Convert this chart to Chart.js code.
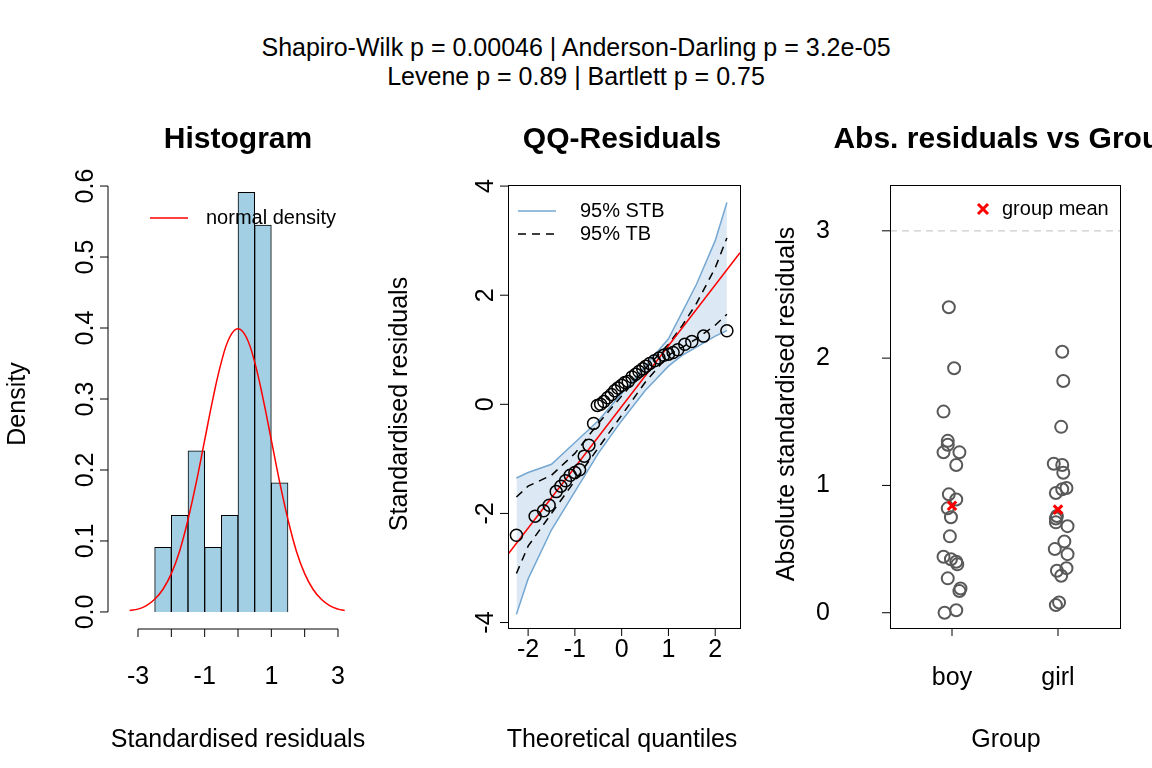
<!DOCTYPE html>
<html>
<head>
<meta charset="utf-8">
<script src="https://cdn.jsdelivr.net/npm/chart.js@4"></script>
<style>
  body { margin: 0; width: 1152px; height: 768px; background: #fff; overflow: hidden; font-family: "Liberation Sans", Arial, sans-serif; }
  .wrap { position: absolute; top: 0; width: 384px; height: 768px; }
  #head { position: absolute; top: 33px; left: 0; width: 1152px; text-align: center; font-size: 25px; line-height: 29px; }
</style>
</head>
<body>
<div id="head">Shapiro-Wilk p = 0.00046 | Anderson-Darling p = 3.2e-05<br>Levene p = 0.89 | Bartlett p = 0.75</div>
<div class="wrap" style="left:0"><canvas id="hist"></canvas></div>
<div class="wrap" style="left:384px"><canvas id="qq"></canvas></div>
<div class="wrap" style="left:768px"><canvas id="grp"></canvas></div>
<script>
// ============================================
// DATA
// ============================================

// histogram: bin centres and densities
const histMids = [-2.25, -1.75, -1.25, -0.75, -0.25, 0.25, 0.75, 1.25];
const histDensity = [0.091, 0.136, 0.227, 0.091, 0.136, 0.591, 0.545, 0.182];
const densX = [-3.25, -3, -2.75, -2.5, -2.25, -2, -1.75, -1.5, -1.25, -1, -0.75, -0.5, -0.25, 0,
               0.25, 0.5, 0.75, 1, 1.25, 1.5, 1.75, 2, 2.25, 2.5, 2.75, 3, 3.2];
const densY = [0.002, 0.004, 0.009, 0.018, 0.032, 0.054, 0.086, 0.130, 0.183, 0.242, 0.301, 0.352, 0.387, 0.399,
               0.387, 0.352, 0.301, 0.242, 0.183, 0.130, 0.086, 0.054, 0.032, 0.018, 0.009, 0.004, 0.002];

// QQ plot
const qqTheo = [-2.25, -1.85, -1.67, -1.55, -1.4, -1.3, -1.2, -1.1, -1.0, -0.9, -0.8, -0.7, -0.6, -0.52, -0.45,
                -0.38, -0.3, -0.22, -0.15, -0.08, 0, 0.07, 0.14, 0.22, 0.3, 0.37, 0.45, 0.52, 0.6, 0.7,
                0.8, 0.9, 1.0, 1.1, 1.2, 1.35, 1.5, 1.75, 2.25];
const qqResid = [-2.4, -2.05, -1.95, -1.85, -1.6, -1.5, -1.4, -1.3, -1.25, -1.2, -0.95, -0.75, -0.35, -0.02, 0.0,
                 0.05, 0.12, 0.18, 0.25, 0.3, 0.35, 0.4, 0.42, 0.5, 0.55, 0.6, 0.65, 0.7, 0.75, 0.8,
                 0.85, 0.9, 0.92, 0.95, 1.0, 1.1, 1.15, 1.25, 1.35];
const bandX = [-2.25, -2, -1.5, -1, -0.5, 0, 0.5, 1, 1.3, 1.6, 2, 2.25];
const stbUpper = [-1.35, -1.25, -1.1, -0.7, -0.3, 0.2, 0.7, 1.2, 1.7, 2.2, 3.0, 3.7];
const stbLower = [-3.85, -3.2, -2.3, -1.6, -0.9, -0.3, 0.25, 0.7, 0.9, 1.05, 1.25, 1.35];
const tbUpper = [-1.7, -1.5, -1.3, -0.9, -0.35, 0.15, 0.65, 1.1, 1.45, 1.85, 2.5, 3.05];
const tbLower = [-3.1, -2.6, -2.0, -1.4, -0.8, -0.2, 0.4, 0.9, 1.05, 1.2, 1.45, 1.65];
const refLineX = [-2.43, 2.53];
const refLineY = [-2.75, 2.78];

// absolute residuals by group (x = jittered group position)
const groups = ['boy', 'girl'];
const boyX = [0.97, 1.02, 0.92, 0.96, 0.96, 0.92, 1.07, 1.04, 0.97, 1.04, 0.96, 0.99, 0.98, 0.92, 0.99, 1.04,
              1.05, 0.96, 1.08, 1.07, 1.04, 0.93];
const boyY = [2.40, 1.92, 1.58, 1.35, 1.32, 1.26, 1.26, 1.16, 0.93, 0.89, 0.82, 0.75, 0.60, 0.44, 0.42, 0.40,
              0.38, 0.27, 0.19, 0.17, 0.02, 0.0];
const girlX = [2.04, 2.05, 2.03, 1.96, 2.04, 2.05, 2.08, 2.04, 1.98, 1.99, 1.98, 1.98, 2.09, 2.06, 1.97, 2.09,
               2.08, 1.99, 2.03, 2.01, 1.98];
const girlY = [2.05, 1.82, 1.46, 1.17, 1.16, 1.10, 0.98, 0.97, 0.94, 0.76, 0.74, 0.71, 0.68, 0.56, 0.50, 0.46,
               0.35, 0.33, 0.29, 0.08, 0.06];
const groupMeanY = [0.84, 0.81];

// ============================================
// R-STYLE AXES PLUGIN
// ============================================

const FONT = '"Liberation Sans", Arial, sans-serif';
const pts = (xs, ys) => xs.map((x, i) => ({ x: x, y: ys[i] }));

const rAxes = {
    id: 'rax',
    afterDraw(chart, args, o) {
        const ctx = chart.ctx, a = chart.chartArea, xs = chart.scales.x, ys = chart.scales.y;
        ctx.save();
        ctx.strokeStyle = '#000';
        ctx.fillStyle = '#000';
        ctx.lineWidth = 1;
        if (o.box) ctx.strokeRect(a.left + 0.5, a.top + 0.5, a.right - a.left, a.bottom - a.top);

        // x axis
        const xp = o.xTicks.map(v => xs.getPixelForValue(v));
        ctx.beginPath();
        if (!o.box) { ctx.moveTo(xp[0], a.bottom); ctx.lineTo(xp[xp.length - 1], a.bottom); }
        xp.forEach(p => { ctx.moveTo(p, a.bottom); ctx.lineTo(p, a.bottom + 8); });
        ctx.stroke();
        ctx.font = '25px ' + FONT;
        ctx.textAlign = 'center';
        ctx.textBaseline = 'middle';
        xp.forEach((p, i) => { if (o.xLabels[i]) ctx.fillText(o.xLabels[i], p, a.bottom + o.xLabelGap); });

        // y axis
        const yp = o.yTicks.map(v => ys.getPixelForValue(v));
        ctx.beginPath();
        if (!o.box) { ctx.moveTo(a.left, yp[0]); ctx.lineTo(a.left, yp[yp.length - 1]); }
        yp.forEach(p => { ctx.moveTo(a.left, p); ctx.lineTo(a.left - 8, p); });
        ctx.stroke();
        yp.forEach((p, i) => {
            if (o.yHoriz) {
                ctx.fillText(o.yLabels[i], a.left - 67, p);
            } else {
                ctx.save();
                ctx.translate(a.left - 22, p);
                ctx.rotate(-Math.PI / 2);
                ctx.fillText(o.yLabels[i], 0, 0);
                ctx.restore();
            }
        });

        // titles
        ctx.fillText(o.xTitle, 238, 740);
        ctx.save();
        ctx.translate(o.yTitleX, 404);
        ctx.rotate(-Math.PI / 2);
        ctx.fillText(o.yTitle, 0, 0);
        ctx.restore();
        ctx.font = 'bold 30px ' + FONT;
        ctx.fillText(o.title, 238, 140);

        // legend
        ctx.font = '20px ' + FONT;
        ctx.textAlign = 'left';
        o.legend.forEach(l => {
            ctx.strokeStyle = l.color;
            ctx.lineWidth = l.width || 1.5;
            ctx.setLineDash(l.dash || []);
            ctx.beginPath();
            if (l.cross) {
                ctx.moveTo(l.x - 5, l.y - 5); ctx.lineTo(l.x + 5, l.y + 5);
                ctx.moveTo(l.x + 5, l.y - 5); ctx.lineTo(l.x - 5, l.y + 5);
            } else {
                ctx.moveTo(l.x, l.y); ctx.lineTo(l.x + 38, l.y);
            }
            ctx.stroke();
            ctx.setLineDash([]);
            ctx.fillStyle = '#000';
            ctx.fillText(l.text, l.tx, l.y);
        });
        ctx.restore();
    }
};

function baseOptions(pad, xr, yr, rax) {
    return {
        responsive: false,
        animation: false,
        layout: { padding: pad },
        plugins: { legend: { display: false }, tooltip: { enabled: false }, rax: rax },
        scales: {
            x: { type: 'linear', display: false, offset: false, min: xr[0], max: xr[1] },
            y: { type: 'linear', display: false, min: yr[0], max: yr[1] }
        }
    };
}

function makeCanvas(id) {
    const c = document.getElementById(id);
    c.width = 384; c.height = 768;
    return c;
}

// ============================================
// PANEL 1: HISTOGRAM
// ============================================

new Chart(makeCanvas('hist'), {
    data: {
        datasets: [
            { type: 'line', data: pts(densX, densY), borderColor: '#ff0000', borderWidth: 1.5,
              pointRadius: 0, tension: 0.4, order: 0 },
            { type: 'bar', data: pts(histMids, histDensity), backgroundColor: '#a2cfe3',
              borderColor: '#000', borderWidth: 1, barPercentage: 1, categoryPercentage: 1, order: 1 }
        ]
    },
    options: baseOptions({ left: 108, right: 26, top: 169, bottom: 139 }, [-3.9, 3.6], [-0.024, 0.624], {
        xTicks: [-3, -2, -1, 0, 1, 2, 3], xLabels: ['-3', '', '-1', '', '1', '', '3'], xLabelGap: 48,
        yTicks: [0, 0.1, 0.2, 0.3, 0.4, 0.5, 0.6], yLabels: ['0.0', '0.1', '0.2', '0.3', '0.4', '0.5', '0.6'],
        xTitle: 'Standardised residuals', yTitle: 'Density', yTitleX: 18, title: 'Histogram',
        legend: [{ x: 150, y: 218, tx: 206, color: '#ff0000', text: 'normal density' }]
    }),
    plugins: [rAxes]
});

// ============================================
// PANEL 2: QQ-RESIDUALS
// ============================================

new Chart(makeCanvas('qq'), {
    type: 'scatter',
    data: {
        datasets: [
            { data: pts(qqTheo, qqResid), pointRadius: 6, pointBorderWidth: 1.5, pointBorderColor: '#000',
              pointBackgroundColor: 'rgba(0,0,0,0)', order: 0 },
            { data: pts(refLineX, refLineY), showLine: true, borderColor: '#ff0000', borderWidth: 1.5,
              pointRadius: 0, order: 1 },
            { data: pts(bandX, tbUpper), showLine: true, borderColor: '#000', borderWidth: 1.5,
              borderDash: [8, 6], pointRadius: 0, order: 2 },
            { data: pts(bandX, tbLower), showLine: true, borderColor: '#000', borderWidth: 1.5,
              borderDash: [8, 6], pointRadius: 0, order: 2 },
            { data: pts(bandX, stbUpper), showLine: true, borderColor: '#74a7d2', borderWidth: 1.5,
              pointRadius: 0, fill: '+1', backgroundColor: 'rgba(116,167,210,0.25)', order: 3 },
            { data: pts(bandX, stbLower), showLine: true, borderColor: '#74a7d2', borderWidth: 1.5,
              pointRadius: 0, order: 3 }
        ]
    },
    options: baseOptions({ left: 124, right: 28, top: 185, bottom: 140 }, [-2.43, 2.53], [-4.1, 4.02], {
        box: true,
        xTicks: [-2, -1, 0, 1, 2], xLabels: ['-2', '-1', '0', '1', '2'], xLabelGap: 22,
        yTicks: [-4, -2, 0, 2, 4], yLabels: ['-4', '-2', '0', '2', '4'],
        xTitle: 'Theoretical quantiles', yTitle: 'Standardised residuals', yTitleX: 16, title: 'QQ-Residuals',
        legend: [
            { x: 134, y: 211, tx: 196, color: '#74a7d2', text: '95% STB' },
            { x: 134, y: 234, tx: 196, color: '#000', dash: [8, 6], text: '95% TB' }
        ]
    }),
    plugins: [rAxes]
});

// ============================================
// PANEL 3: ABS. RESIDUALS VS GROUP
// ============================================

new Chart(makeCanvas('grp'), {
    type: 'scatter',
    data: {
        datasets: [
            { data: [{ x: 1, y: groupMeanY[0] }, { x: 2, y: groupMeanY[1] }], pointStyle: 'crossRot',
              pointRadius: 6, pointBorderWidth: 3, pointBorderColor: '#ff0000', order: 0 },
            { data: pts(boyX.concat(girlX), boyY.concat(girlY)), pointRadius: 6, pointBorderWidth: 2,
              pointBorderColor: '#595959', pointBackgroundColor: 'rgba(0,0,0,0)', order: 1 },
            { data: [{ x: 0.415, y: 3 }, { x: 2.585, y: 3 }], showLine: true, borderColor: '#cccccc',
              borderWidth: 1.2, borderDash: [7, 5], pointRadius: 0, order: 2 }
        ]
    },
    options: baseOptions({ left: 122, right: 32, top: 185, bottom: 140 }, [0.415, 2.585], [-0.12, 3.36], {
        box: true,
        xTicks: [1, 2], xLabels: groups, xLabelGap: 50,
        yTicks: [0, 1, 2, 3], yLabels: ['0', '1', '2', '3'], yHoriz: true,
        xTitle: 'Group', yTitle: 'Absolute standardised residuals', yTitleX: 19, title: 'Abs. residuals vs Group',
        legend: [{ x: 215, y: 209, tx: 234, color: '#ff0000', cross: true, width: 3, text: 'group mean' }]
    }),
    plugins: [rAxes]
});
</script>
</body>
</html>
